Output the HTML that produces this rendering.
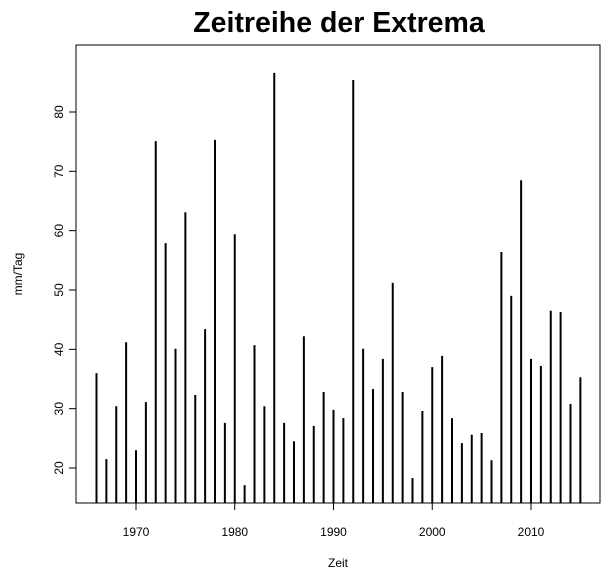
<!DOCTYPE html>
<html><head><meta charset="utf-8"><style>body{margin:0;background:#fff}svg{display:block}text{font-family:"Liberation Sans",sans-serif}</style></head>
<body>
<svg id="c" width="609" height="578">
<text x="339" y="32" text-anchor="middle" font-size="28.5" font-weight="bold">Zeitreihe der Extrema</text>
<rect x="76" y="45" width="524" height="458" fill="none" stroke="#000" stroke-width="1"/>
<text x="338" y="567" text-anchor="middle" font-size="12">Zeit</text>
<text transform="translate(22,274) rotate(-90)" text-anchor="middle" font-size="12">mm/Tag</text>
<g id="marks"></g>
</svg>
<script>
const years=[1966,1967,1968,1969,1970,1971,1972,1973,1974,1975,1976,1977,1978,1979,1980,1981,1982,1983,1984,1985,1986,1987,1988,1989,1990,1991,1992,1993,1994,1995,1996,1997,1998,1999,2000,2001,2002,2003,2004,2005,2006,2007,2008,2009,2010,2011,2012,2013,2014,2015];
const values=[36.0,21.5,30.4,41.2,23.0,31.1,75.1,57.9,40.1,63.1,32.3,43.4,75.3,27.6,59.4,17.1,40.7,30.4,86.6,27.6,24.5,42.2,27.1,32.8,29.8,28.4,85.4,40.1,33.3,38.4,51.2,32.8,18.3,29.6,37.0,38.9,28.4,24.2,25.6,25.9,21.3,56.4,49.0,68.5,38.4,37.2,46.5,46.3,30.8,35.3];
const xTicks=[1970,1980,1990,2000,2010];
const yTicks=[20,30,40,50,60,70,80];
const NS="http://www.w3.org/2000/svg";
const g=document.getElementById('marks');
const X=v=>136+(v-1970)*(395/40);
const Y=v=>468-(v-20)*(356/60);
const bottom=503;
function mk(t,a){const e=document.createElementNS(NS,t);for(const k in a)e.setAttribute(k,a[k]);g.appendChild(e);return e;}
years.forEach((yr,i)=>{
 const l=mk('line',{x1:X(yr),x2:X(yr),y1:bottom,y2:Y(values[i]),stroke:'#000','stroke-width':2});
 
 
});
const xa=mk('line',{x1:X(xTicks[0]),x2:X(xTicks[xTicks.length-1]),y1:503,y2:503,stroke:'#000'});


xTicks.forEach(t=>{
 const tk=mk('line',{x1:X(t),x2:X(t),y1:503,y2:510,stroke:'#000'});
 
 
 const tx=mk('text',{x:X(t),y:536,'text-anchor':'middle','font-size':12});
 tx.textContent=t;
 
 
});
const ya=mk('line',{x1:76,x2:76,y1:Y(yTicks[0]),y2:Y(yTicks[yTicks.length-1]),stroke:'#000'});


yTicks.forEach(t=>{
 const tk=mk('line',{x1:69,x2:76,y1:Y(t),y2:Y(t),stroke:'#000'});
 
 
 const tx=mk('text',{transform:`translate(63,${Y(t)}) rotate(-90)`,'text-anchor':'middle','font-size':12});
 tx.textContent=t;
 
 
});
</script>
</body></html>
